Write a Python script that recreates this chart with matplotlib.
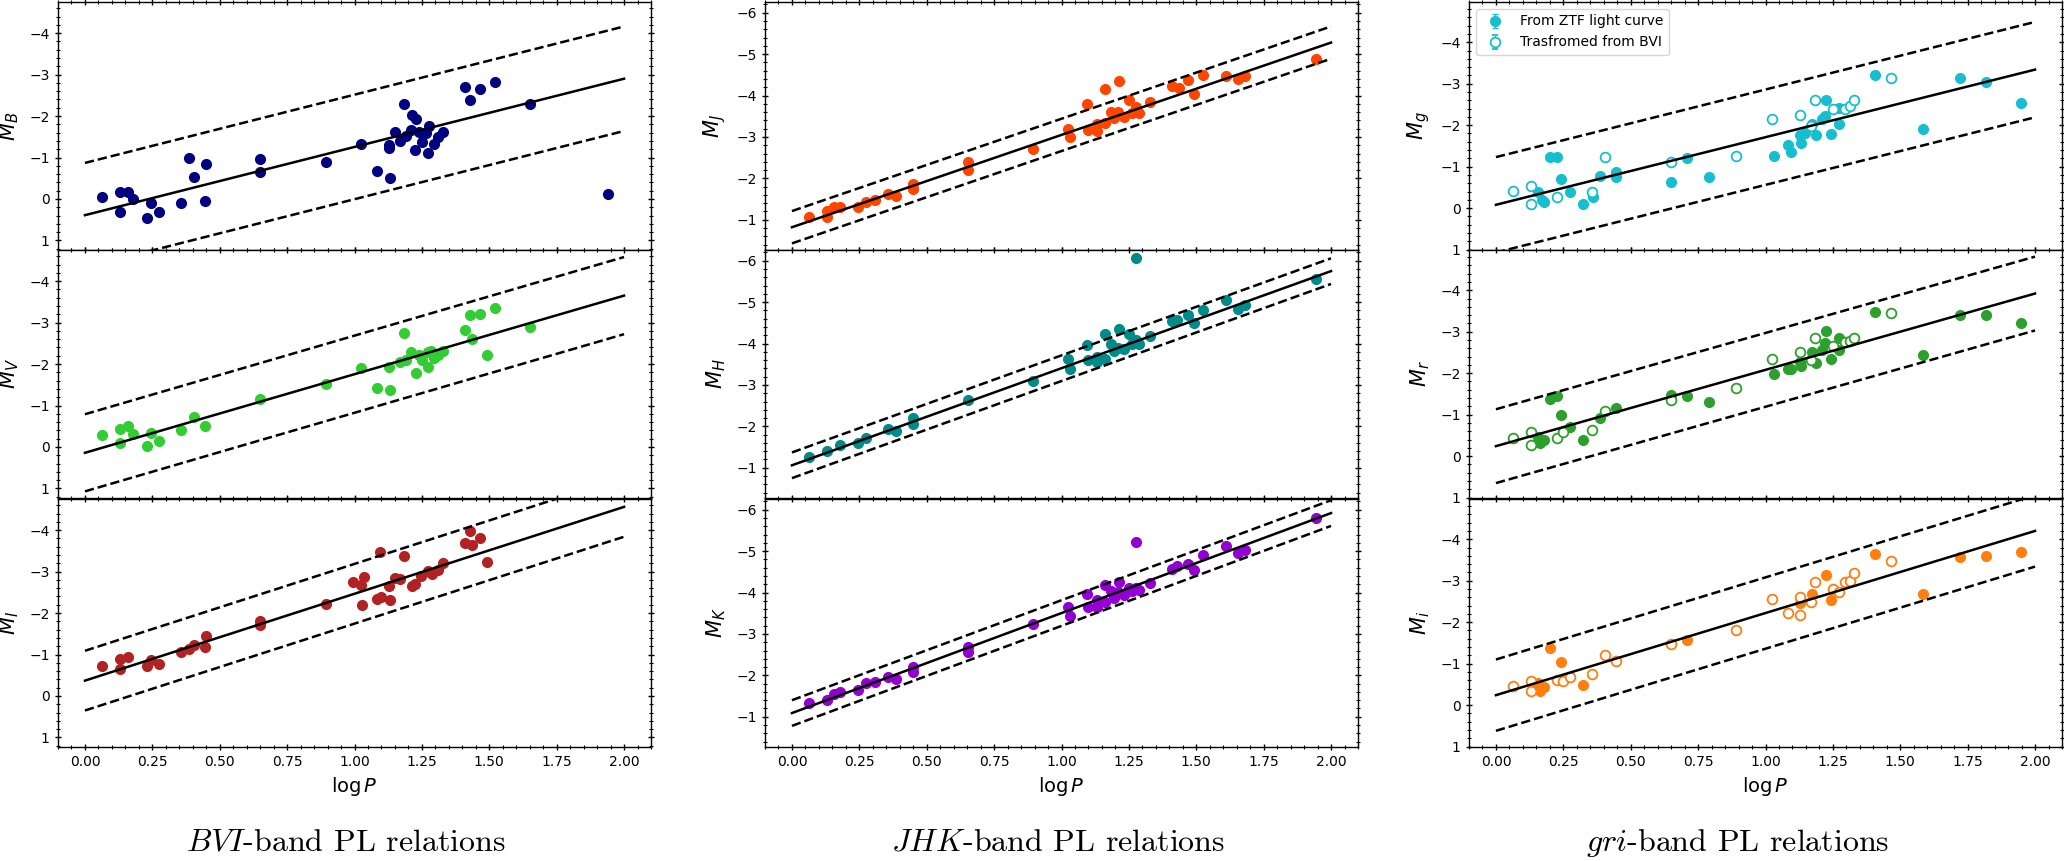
import matplotlib
matplotlib.use("Agg")
import matplotlib.pyplot as plt
from matplotlib.ticker import MultipleLocator

# ── BVI column ───────────────────────────────────────────
B_logp = [0.063, 0.129, 0.129, 0.158, 0.179, 0.229, 0.246, 0.276, 0.355, 0.385, 0.405,
          0.446, 0.450, 0.651, 0.651, 0.893, 1.024, 1.082, 1.129, 1.129, 1.132, 1.149,
          1.168, 1.183, 1.192, 1.210, 1.215, 1.227, 1.225, 1.241, 1.251, 1.265, 1.271,
          1.278, 1.295, 1.311, 1.328, 1.411, 1.429, 1.467, 1.522, 1.651, 1.940]
B_mag = [-0.05, -0.16, 0.32, -0.16, 0.00, 0.47, 0.10, 0.32, 0.10, -0.99, -0.52,
         0.05, -0.85, -0.97, -0.65, -0.89, -1.33, -0.67, -1.23, -1.29, -0.51, -1.62,
         -1.41, -2.29, -1.53, -1.67, -2.03, -1.93, -1.17, -1.61, -1.37, -1.59, -1.12,
         -1.77, -1.33, -1.49, -1.62, -2.69, -2.39, -2.65, -2.81, -2.30, -0.13]

V_logp = [0.063, 0.129, 0.129, 0.158, 0.179, 0.229, 0.246, 0.276, 0.355, 0.405, 0.446,
          0.651, 0.893, 1.024, 1.082, 1.129, 1.132, 1.168, 1.183, 1.192, 1.210, 1.227,
          1.241, 1.251, 1.271, 1.271, 1.284, 1.295, 1.311, 1.328, 1.411, 1.429, 1.436,
          1.467, 1.492, 1.522, 1.651]
V_mag = [-0.30, -0.44, -0.09, -0.50, -0.32, -0.02, -0.34, -0.15, -0.40, -0.73, -0.50,
         -1.15, -1.52, -1.91, -1.42, -1.94, -1.38, -2.06, -2.74, -2.10, -2.30, -1.79,
         -2.22, -2.10, -1.92, -2.30, -2.32, -2.15, -2.22, -2.32, -2.82, -3.19, -2.60,
         -3.21, -2.22, -3.35, -2.89]

I_logp = [0.063, 0.129, 0.129, 0.158, 0.229, 0.246, 0.276, 0.355, 0.385, 0.405, 0.446,
          0.450, 0.651, 0.651, 0.893, 0.996, 1.024, 1.034, 1.029, 1.082, 1.099, 1.132,
          1.129, 1.095, 1.183, 1.149, 1.167, 1.215, 1.225, 1.245, 1.271, 1.288, 1.311,
          1.328, 1.411, 1.429, 1.436, 1.467, 1.492]
I_mag = [-0.73, -0.89, -0.66, -0.94, -0.73, -0.87, -0.77, -1.06, -1.13, -1.22, -1.18,
         -1.45, -1.80, -1.72, -2.22, -2.74, -2.67, -2.87, -2.20, -2.34, -2.39, -2.31,
         -2.66, -3.48, -3.38, -2.85, -2.83, -2.65, -2.71, -2.89, -3.01, -2.93, -3.03,
         -3.21, -3.70, -3.98, -3.64, -3.82, -3.23]

# ── JHK column ───────────────────────────────────────────
J_logp = [0.062, 0.129, 0.129, 0.157, 0.179, 0.244, 0.275, 0.308, 0.357, 0.387, 0.449,
          0.449, 0.652, 0.652, 0.894, 1.025, 1.030, 1.096, 1.099, 1.132, 1.132, 1.160,
          1.160, 1.184, 1.194, 1.210, 1.214, 1.233, 1.250, 1.260, 1.276, 1.287, 1.330,
          1.410, 1.435, 1.468, 1.492, 1.525, 1.610, 1.656, 1.681, 1.943]
J_mag = [-1.07, -1.20, -1.06, -1.30, -1.30, -1.30, -1.42, -1.48, -1.63, -1.58, -1.87,
         -1.74, -2.39, -2.20, -2.71, -3.19, -3.01, -3.79, -3.17, -3.15, -3.31, -4.15,
         -3.34, -3.61, -3.45, -3.61, -4.35, -3.49, -3.89, -3.57, -3.73, -3.59, -3.85,
         -4.23, -4.19, -4.37, -4.03, -4.49, -4.47, -4.41, -4.47, -4.88]

H_logp = [0.062, 0.129, 0.179, 0.244, 0.275, 0.357, 0.387, 0.449, 0.449, 0.652, 0.894,
          1.025, 1.030, 1.096, 1.099, 1.132, 1.132, 1.160, 1.160, 1.184, 1.194, 1.210,
          1.214, 1.233, 1.250, 1.263, 1.276, 1.287, 1.330, 1.410, 1.427, 1.468, 1.492,
          1.525, 1.610, 1.656, 1.681, 1.943, 1.276]
H_mag = [-1.26, -1.41, -1.56, -1.59, -1.73, -1.93, -1.89, -2.21, -2.05, -2.64, -3.10,
         -3.62, -3.39, -3.96, -3.60, -3.68, -3.55, -4.22, -3.63, -4.00, -3.82, -3.90,
         -4.36, -3.88, -4.22, -3.98, -4.08, -3.98, -4.18, -4.54, -4.58, -4.70, -4.49,
         -4.82, -5.06, -4.84, -4.94, -5.57, -6.06]

K_logp = [0.062, 0.129, 0.157, 0.179, 0.244, 0.275, 0.308, 0.357, 0.387, 0.449, 0.449,
          0.652, 0.652, 0.894, 1.025, 1.030, 1.096, 1.099, 1.132, 1.132, 1.160, 1.160,
          1.184, 1.194, 1.210, 1.214, 1.233, 1.250, 1.263, 1.276, 1.287, 1.330, 1.276,
          1.410, 1.427, 1.468, 1.492, 1.525, 1.610, 1.656, 1.681, 1.943]
K_mag = [-1.33, -1.41, -1.55, -1.61, -1.65, -1.81, -1.83, -1.97, -1.92, -2.20, -2.09,
         -2.69, -2.56, -3.24, -3.66, -3.44, -3.96, -3.64, -3.82, -3.64, -4.18, -3.78,
         -4.04, -3.88, -4.02, -4.26, -3.94, -4.10, -4.04, -4.12, -4.06, -4.22, -5.22,
         -4.56, -4.64, -4.70, -4.54, -4.90, -5.13, -4.96, -5.04, -5.80]

# ── gri column: ZTF (filled) and transformed from BVI (open) ─
g_ztf_logp = [0.155, 0.170, 0.180, 0.199, 0.228, 0.243, 0.275, 0.324, 0.361, 0.385, 0.447,
              0.447, 0.651, 0.708, 0.792, 1.030, 1.082, 1.096, 1.127, 1.132, 1.147, 1.171,
              1.189, 1.208, 1.219, 1.224, 1.244, 1.271, 1.271, 1.407, 1.584, 1.720, 1.819,
              1.947]
g_ztf_mag = [-0.40, -0.20, -0.14, -1.24, -1.24, -0.70, -0.40, -0.10, -0.28, -0.78, -0.88,
             -0.76, -0.64, -1.20, -0.74, -1.26, -1.53, -1.36, -1.76, -1.56, -1.80, -2.02,
             -1.76, -2.16, -2.22, -2.60, -1.78, -2.42, -2.04, -3.22, -1.90, -3.14, -3.04,
             -2.53]
g_bvi_logp = [0.063, 0.130, 0.130, 0.228, 0.356, 0.405, 0.651, 0.892, 1.023, 1.129, 1.168,
              1.182, 1.249, 1.294, 1.313, 1.328, 1.466]
g_bvi_mag = [-0.42, -0.54, -0.10, -0.28, -0.38, -1.24, -1.12, -1.26, -2.14, -2.24, -1.98,
             -2.60, -2.38, -2.38, -2.46, -2.60, -3.14]

r_ztf_logp = [0.155, 0.164, 0.180, 0.199, 0.228, 0.243, 0.275, 0.324, 0.385, 0.447, 0.651,
              0.708, 0.792, 1.030, 1.082, 1.096, 1.127, 1.132, 1.171, 1.189, 1.208, 1.219,
              1.224, 1.244, 1.271, 1.271, 1.407, 1.584, 1.720, 1.819, 1.947]
r_ztf_mag = [-0.47, -0.32, -0.39, -1.37, -1.45, -1.00, -0.71, -0.39, -0.93, -1.15, -1.47,
             -1.45, -1.31, -1.97, -2.10, -2.10, -2.27, -2.17, -2.51, -2.25, -2.57, -2.73,
             -3.02, -2.33, -2.84, -2.57, -3.48, -2.45, -3.41, -3.40, -3.22]
r_bvi_logp = [0.063, 0.130, 0.130, 0.228, 0.248, 0.356, 0.405, 0.651, 0.892, 1.023, 1.129,
              1.168, 1.182, 1.249, 1.294, 1.313, 1.328, 1.466]
r_bvi_mag = [-0.43, -0.57, -0.27, -0.43, -0.57, -0.63, -1.09, -1.35, -1.65, -2.34, -2.50,
             -2.31, -2.84, -2.66, -2.76, -2.78, -2.86, -3.44]

i_ztf_logp = [0.155, 0.164, 0.180, 0.199, 0.243, 0.324, 0.708, 1.129, 1.171, 1.224, 1.244,
              1.407, 1.584, 1.720, 1.819, 1.947]
i_ztf_mag = [-0.53, -0.35, -0.43, -1.38, -1.05, -0.49, -1.56, -2.47, -2.67, -3.14, -2.53,
             -3.64, -2.67, -3.56, -3.60, -3.68]
i_bvi_logp = [0.063, 0.130, 0.130, 0.228, 0.248, 0.275, 0.356, 0.405, 0.447, 0.651, 0.892,
              1.023, 1.082, 1.129, 1.129, 1.168, 1.182, 1.249, 1.271, 1.294, 1.313, 1.328,
              1.466]
i_bvi_mag = [-0.45, -0.59, -0.35, -0.61, -0.59, -0.67, -0.74, -1.21, -1.07, -1.48, -1.80,
             -2.55, -2.21, -2.18, -2.61, -2.49, -2.96, -2.81, -2.73, -2.96, -2.99, -3.18,
             -3.48]
gri_err = 0.04

# ── PL fits: M = zero + slope * logP, dashed at +/- width ──
fit_logp = [0.0, 2.0]
fits = {
    "B": (0.39, -1.645, 1.26), "V": (0.14, -1.895, 0.93), "I": (-0.37, -2.095, 0.72),
    "J": (-0.82, -2.23, 0.39), "H": (-1.06, -2.345, 0.31), "K": (-1.09, -2.415, 0.31),
    "g": (-0.08, -1.63, 1.15), "r": (-0.24, -1.84, 0.89), "i": (-0.24, -1.98, 0.86),
}

captions = [r"$BVI$-band PL relations", r"$JHK$-band PL relations", r"$gri$-band PL relations"]

W, H = 2064, 861
fig = plt.figure(figsize=(W / 100, H / 100), dpi=100, facecolor="white")

col_left = [58, 765, 1469]
col_width = 593
row_top = [2, 250, 499]
row_h = 248
caption_x = [346, 1058, 1738]


def make_axes(col):
    axes = []
    for r in range(3):
        x0 = col_left[col] / W
        y0 = 1 - (row_top[r] + row_h) / H
        ax = fig.add_axes([x0, y0, col_width / W, row_h / H],
                          sharex=axes[0] if axes else None)
        axes.append(ax)
    return axes


def style(ax, ylim, ylabel, bottom):
    ax.set_xlim(-0.1, 2.1)
    ax.set_ylim(*ylim)
    ax.xaxis.set_major_locator(MultipleLocator(0.25))
    ax.xaxis.set_minor_locator(MultipleLocator(0.05))
    ax.yaxis.set_major_locator(MultipleLocator(1))
    ax.yaxis.set_minor_locator(MultipleLocator(0.2))
    ax.tick_params(which="both", direction="inout", top=True, right=True, labelsize=10)
    ax.tick_params(which="major", length=5, width=1)
    ax.tick_params(which="minor", length=2.8, width=0.8)
    ax.tick_params(axis="x", labelbottom=bottom)
    ax.set_ylabel(ylabel, fontsize=15, labelpad=6)
    if bottom:
        ax.set_xlabel(r"$\log P$", fontsize=14, labelpad=4)
    for s in ax.spines.values():
        s.set_linewidth(1.0)


def draw_fit(ax, band):
    zero, slope, width = fits[band]
    m = [zero + slope * x for x in fit_logp]
    ax.plot(fit_logp, m, color="black", lw=1.8, zorder=3)
    ax.plot(fit_logp, [v - width for v in m], color="black", lw=1.8, ls="--", zorder=3)
    ax.plot(fit_logp, [v + width for v in m], color="black", lw=1.8, ls="--", zorder=3)


# BVI
axs = make_axes(0)
for ax, (band, lp, mg, col, lab) in zip(axs, [
        ("B", B_logp, B_mag, "navy", r"$M_B$"),
        ("V", V_logp, V_mag, "limegreen", r"$M_V$"),
        ("I", I_logp, I_mag, "firebrick", r"$M_I$")]):
    ax.plot(lp, mg, "o", color=col, ms=7, zorder=2)
    draw_fit(ax, band)
    style(ax, (1.23, -4.75), lab, band == "I")

# JHK
axs = make_axes(1)
for ax, (band, lp, mg, col, lab) in zip(axs, [
        ("J", J_logp, J_mag, "orangered", r"$M_J$"),
        ("H", H_logp, H_mag, "darkcyan", r"$M_H$"),
        ("K", K_logp, K_mag, "darkviolet", r"$M_K$")]):
    ax.plot(lp, mg, "o", color=col, ms=7, zorder=2)
    draw_fit(ax, band)
    style(ax, (-0.27, -6.26), lab, band == "K")

# gri
axs = make_axes(2)
for ax, (band, lz, mz, lb, mb, col, lab) in zip(axs, [
        ("g", g_ztf_logp, g_ztf_mag, g_bvi_logp, g_bvi_mag, "#17becf", r"$M_g$"),
        ("r", r_ztf_logp, r_ztf_mag, r_bvi_logp, r_bvi_mag, "#2ca02c", r"$M_r$"),
        ("i", i_ztf_logp, i_ztf_mag, i_bvi_logp, i_bvi_mag, "#ff7f0e", r"$M_i$")]):
    ax.errorbar(lz, mz, yerr=gri_err, fmt="o", color=col, ms=7, capsize=2,
                elinewidth=1, zorder=2, label="From ZTF light curve")
    ax.errorbar(lb, mb, yerr=gri_err, fmt="o", color=col, mfc="white", mec=col,
                mew=1.3, ms=7, capsize=2, elinewidth=1, zorder=2,
                label="Trasfromed from BVI")
    draw_fit(ax, band)
    style(ax, (1.01, -4.97), lab, band == "i")
    if band == "g":
        ax.legend(loc="upper left", fontsize=10, framealpha=0.8)

for cx, text in zip(caption_x, captions):
    fig.text(cx / W, 1 - 843 / H, text, ha="center", va="center", fontsize=23,
             family="cmr10", math_fontfamily="cm")

fig.savefig("out.png", dpi=100, facecolor="white")
